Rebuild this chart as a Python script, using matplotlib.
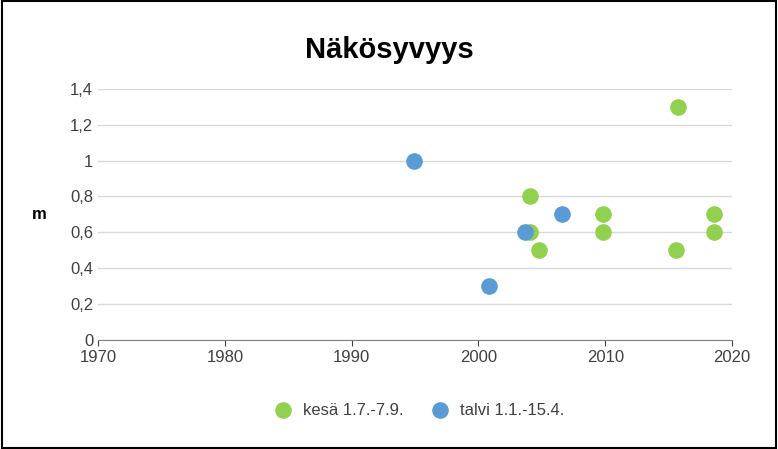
import matplotlib.pyplot as plt
from matplotlib.patches import Rectangle

plt.rcParams['font.family'] = ['Liberation Sans', 'DejaVu Sans']

# kesä 1.7.-7.9.
kesa_year = [2004.1, 2004.1, 2004.8, 2009.8, 2009.8, 2015.7, 2015.6, 2018.6, 2018.6]
kesa_m = [0.8, 0.6, 0.5, 0.7, 0.6, 1.3, 0.5, 0.7, 0.6]
# talvi 1.1.-15.4.
talvi_year = [1994.9, 2000.8, 2003.7, 2006.6]
talvi_m = [1.0, 0.3, 0.6, 0.7]

fig = plt.figure(figsize=(7.78, 4.49), dpi=100)
fig.patches.append(Rectangle((0.002, 0.002), 0.996, 0.996, transform=fig.transFigure,
                             fill=False, edgecolor='black', linewidth=1.5))
ax = fig.add_axes([0.126, 0.243, 0.815, 0.559])

ax.scatter(kesa_year, kesa_m, s=120, color='#92D050', label='kesä 1.7.-7.9.', zorder=3)
ax.scatter(talvi_year, talvi_m, s=120, color='#5B9BD5', label='talvi 1.1.-15.4.', zorder=3)

ax.set_xlim(1970, 2020)
ax.set_ylim(0, 1.4)
ax.set_xticks(range(1970, 2021, 10))
ax.set_yticks([i * 0.2 for i in range(8)])
ax.set_yticklabels(['0', '0,2', '0,4', '0,6', '0,8', '1', '1,2', '1,4'])
ax.tick_params(labelsize=12, colors='#404040', length=4)
ax.tick_params(axis='y', length=0)
ax.grid(axis='y', color='#d9d9d9', linewidth=1)
ax.set_axisbelow(True)
for s in ['top', 'right', 'left']:
    ax.spines[s].set_visible(False)
ax.spines['bottom'].set_color('#808080')
ax.set_ylabel('m', rotation=0, fontsize=12, fontweight='bold', labelpad=22, va='center')

fig.suptitle('Näkösyvyys', fontsize=21, fontweight='bold', y=0.92)
ax.legend(loc='upper center', bbox_to_anchor=(0.5, -0.19), ncol=2, frameon=False,
          fontsize=12, handletextpad=0.2, columnspacing=1.2, labelcolor='#404040')

fig.savefig('out.png', dpi=100)
